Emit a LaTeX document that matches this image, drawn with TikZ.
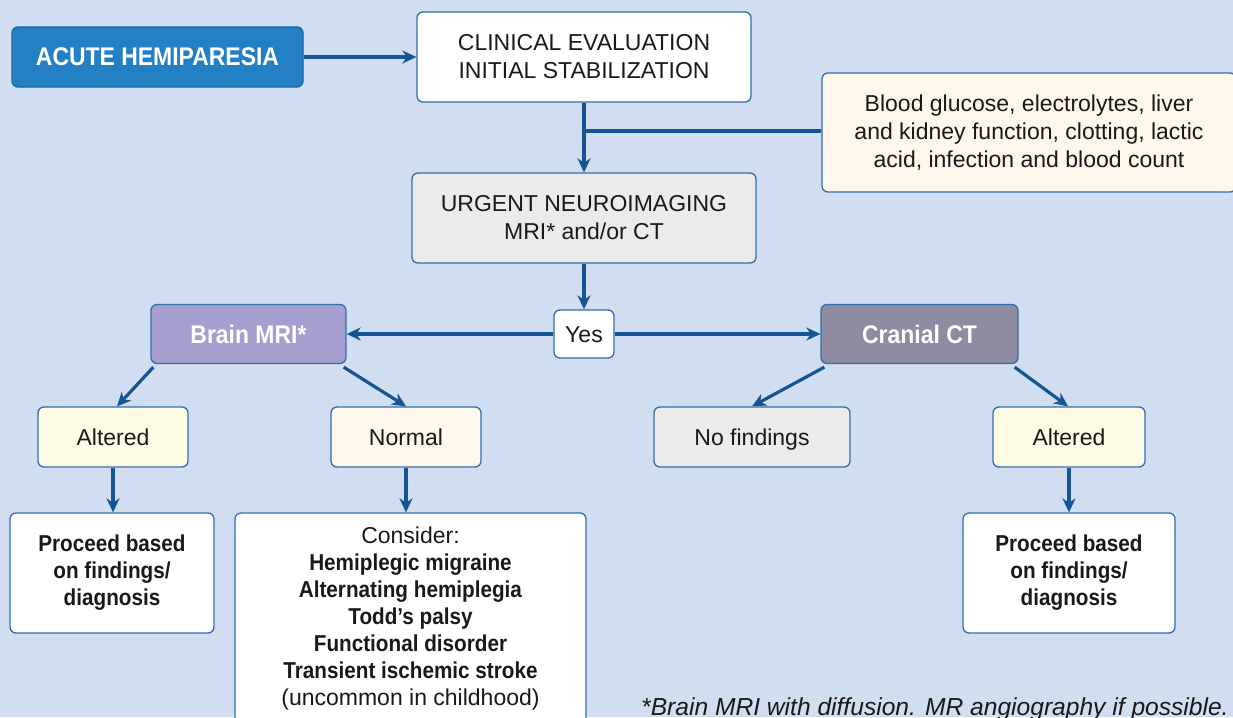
\documentclass[tikz,border=0pt]{standalone}
\usepackage{fontspec}
\setmainfont{Liberation Sans}[BoldFeatures={FakeStretch=0.9}]
\usetikzlibrary{arrows.meta,calc}
\definecolor{bgc}{RGB}{209,222,241}
\definecolor{linec}{RGB}{22,84,148}
\definecolor{bordc}{RGB}{50,110,170}
\definecolor{acutec}{RGB}{35,128,196}
\definecolor{creamc}{RGB}{255,246,236}
\definecolor{grayc}{RGB}{235,235,235}
\definecolor{mric}{RGB}{166,158,206}
\definecolor{ctc}{RGB}{143,139,162}
\definecolor{yellc}{RGB}{254,252,229}
\definecolor{txtc}{RGB}{25,25,25}
\pgfdeclarelayer{bglayer}
\pgfdeclarelayer{edgelayer}
\pgfsetlayers{bglayer,edgelayer,main}
\tikzset{
  box/.style={draw=bordc, line width=1.3pt, rounded corners=6pt, align=center,
    inner sep=4pt, text=txtc, font=\fontsize{23}{28}\selectfont},
  oneline/.style={text height=19pt, text depth=3pt},
  head/.style={text=white, font=\fontsize{25.5}{30}\selectfont\bfseries, text height=21pt, text depth=3pt},
  arr/.style={draw=linec, line width=3.2pt, -{Stealth[length=14pt,width=13pt,inset=4.5pt]}},
  plainline/.style={draw=linec, line width=3.2pt},
}
\begin{document}
\begin{tikzpicture}[x=1pt,y=-1pt]
\useasboundingbox (0,0) rectangle (1233,717);
\begin{pgfonlayer}{bglayer}
\fill[bgc] (0,0) rectangle (1233,717);
\end{pgfonlayer}

\node[box, head, fill=acutec, draw=acutec!80!black,
  minimum width=291pt, minimum height=60pt] (acute) at (157.5,57) {ACUTE HEMIPARESIA};
\node[box, fill=white, minimum width=334pt, minimum height=90pt] (clin) at (584,57)
  {CLINICAL EVALUATION\\INITIAL STABILIZATION};
\node[box, fill=creamc, minimum width=414pt, minimum height=119pt] (blood) at (1029,132.5)
  {Blood glucose, electrolytes, liver\\and kidney function, clotting, lactic\\acid, infection and blood count};
\node[box, fill=grayc, minimum width=344pt, minimum height=90pt] (urgent) at (584,218)
  {URGENT NEUROIMAGING\\MRI* and/or CT};
\node[box, oneline, fill=white, minimum width=60pt, minimum height=48pt] (yes) at (584,334) {Yes};
\node[box, head, fill=mric,
  minimum width=195pt, minimum height=59pt] (mri) at (248.5,334) {Brain MRI*};
\node[box, head, fill=ctc,
  minimum width=197pt, minimum height=59pt] (ct) at (919.5,334) {Cranial CT};
\node[box, oneline, fill=yellc, minimum width=150pt, minimum height=60pt] (alt1) at (113,437) {Altered};
\node[box, oneline, fill=creamc, minimum width=150pt, minimum height=60pt] (normal) at (406,437) {Normal};
\node[box, oneline, fill=grayc, minimum width=196pt, minimum height=60pt] (nof) at (752,437) {No findings};
\node[box, oneline, fill=yellc, minimum width=152pt, minimum height=60pt] (alt2) at (1069,437) {Altered};
\node[box, fill=white, font=\fontsize{23}{27}\selectfont\bfseries,
  minimum width=204pt, minimum height=120pt] (proc1) at (112,573)
  {Proceed based\\on findings/\\diagnosis};
\node[box, fill=white, minimum width=351pt, minimum height=211pt,
  font=\fontsize{23}{27}\selectfont] (consider) at (410.5,618.5)
  {Consider:\\\textbf{Hemiplegic migraine}\\\textbf{Alternating hemiplegia}\\\textbf{Todd’s palsy}\\\textbf{Functional disorder}\\\textbf{Transient ischemic stroke}\\(uncommon in childhood)};
\node[box, fill=white, font=\fontsize{23}{27}\selectfont\bfseries,
  minimum width=212pt, minimum height=120pt] (proc2) at (1069,573)
  {Proceed based\\on findings/\\diagnosis};
\node[anchor=base west, inner sep=0pt, text=txtc, font=\fontsize{24.6}{28}\selectfont\itshape] (fn) at (641,715)
  {*Brain MRI with diffusion. MR angiography if possible.};

\begin{pgfonlayer}{edgelayer}
\coordinate (br) at (584,131);
\draw[arr] (acute) -- (clin);
\draw[arr] (clin) -- (urgent);
\draw[plainline] (br) -- (br -| blood.west);
\draw[arr] (urgent) -- (yes);
\draw[arr] (yes) -- (mri);
\draw[arr] (yes) -- (ct);
\draw[arr] ([xshift=3pt,yshift=-3pt]mri.south west) -- ([xshift=4pt]alt1.north);
\draw[arr] ([xshift=-3pt,yshift=-3pt]mri.south east) -- (normal.north);
\draw[arr] ([xshift=4pt,yshift=-3pt]ct.south west) -- (nof.north);
\draw[arr] ([xshift=-4pt,yshift=-3pt]ct.south east) -- ([xshift=-1pt]alt2.north);
\draw[arr] (alt1.south) -- (alt1.south |- proc1.north);
\draw[arr] (normal.south) -- (normal.south |- consider.north);
\draw[arr] (alt2.south) -- (alt2.south |- proc2.north);
\end{pgfonlayer}
\end{tikzpicture}
\end{document}
